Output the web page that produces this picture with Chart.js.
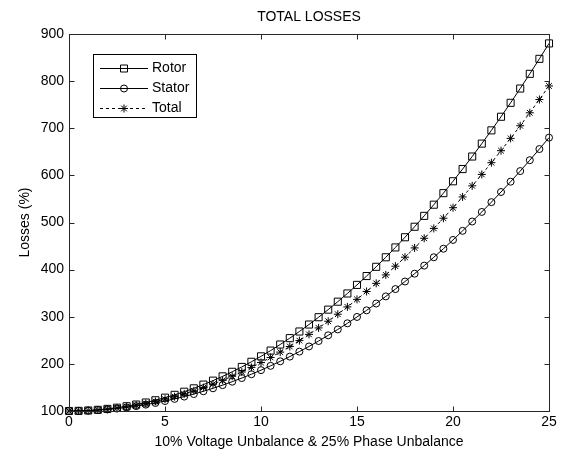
<!DOCTYPE html>
<html>
<head>
<meta charset="utf-8">
<script src="https://cdn.jsdelivr.net/npm/chart.js"></script>
<style>
  html, body { margin: 0; padding: 0; background: #fff; }
  #wrap { width: 562px; height: 454px; }
</style>
</head>
<body>
<div id="wrap"><canvas id="lossChart" width="562" height="454"></canvas></div>
<script>
const UNBALANCE = [0, 0.5, 1, 1.5, 2, 2.5, 3, 3.5, 4, 4.5, 5, 5.5, 6, 6.5, 7, 7.5, 8, 8.5, 9, 9.5,
  10, 10.5, 11, 11.5, 12, 12.5, 13, 13.5, 14, 14.5, 15, 15.5, 16, 16.5, 17, 17.5, 18, 18.5, 19, 19.5,
  20, 20.5, 21, 21.5, 22, 22.5, 23, 23.5, 24, 24.5, 25];
const ROTOR = [100.0, 100.3, 101.1, 102.5, 104.5, 107.0, 110.1, 113.7, 118.0, 122.8, 128.3, 134.3, 140.9,
  148.1, 156.0, 164.4, 173.5, 183.2, 193.5, 204.4, 216.0, 228.2, 241.1, 254.6, 268.7, 283.5, 299.0, 315.1,
  332.0, 349.4, 367.6, 386.4, 406.0, 426.2, 447.1, 468.7, 491.0, 514.1, 537.8, 562.3, 587.5, 613.4, 640.0,
  667.4, 695.5, 724.4, 754.0, 784.3, 815.5, 847.3, 880.0];
const STATOR = [100.0, 100.2, 100.8, 101.9, 103.3, 105.2, 107.5, 110.3, 113.5, 117.1, 121.2, 125.7, 130.6,
  136.0, 141.9, 148.2, 154.9, 162.2, 169.9, 178.0, 186.7, 195.8, 205.4, 215.4, 226.0, 237.0, 248.5, 260.6,
  273.1, 286.1, 299.6, 313.6, 328.1, 343.2, 358.7, 374.8, 391.4, 408.5, 426.2, 444.3, 463.0, 482.3, 502.1,
  522.4, 543.2, 564.7, 586.6, 609.1, 632.2, 655.9, 680.1];
const TOTAL = [100.0, 100.2, 101.0, 102.2, 103.9, 106.2, 108.9, 112.2, 116.0, 120.2, 125.1, 130.4, 136.3,
  142.7, 149.6, 157.1, 165.1, 173.7, 182.8, 192.5, 202.8, 213.6, 225.0, 236.9, 249.4, 262.6, 276.3, 290.5,
  305.4, 320.9, 336.9, 353.6, 370.9, 388.8, 407.3, 426.4, 446.1, 466.5, 487.5, 509.1, 531.4, 554.3, 577.8,
  602.0, 626.9, 652.4, 678.5, 705.3, 732.8, 761.0, 789.8];
const X_RANGE = [0, 25];
const X_STEP = 5;
const Y_RANGE = [100, 900];
const Y_STEP = 100;

const FONT = "'Liberation Sans', Arial, sans-serif";
const INK = '#000';
const AXIS = '#262626';

// markers + legend drawn by hand, matlab style (ticks point inward, boxed axes)
function drawMarker(ctx, style, cx, cy) {
  ctx.beginPath();
  if (style === 'rect') {
    ctx.rect(cx - 3.5, cy - 3.5, 7, 7);
  } else if (style === 'circle') {
    ctx.arc(cx, cy, 3.5, 0, Math.PI * 2);
  } else {
    for (let k = 0; k < 4; k++) {
      const a = k * Math.PI / 4;
      ctx.moveTo(cx - Math.cos(a) * 4, cy - Math.sin(a) * 4);
      ctx.lineTo(cx + Math.cos(a) * 4, cy + Math.sin(a) * 4);
    }
  }
  ctx.stroke();
}

const matlabFrame = {
  id: 'matlabFrame',
  afterDatasetsDraw(chart) {
    const { ctx, chartArea: { left, top, right, bottom }, scales: { x, y } } = chart;
    const L = Math.round(left) + 0.5, R = Math.round(right) + 0.5;
    const T = Math.round(top) + 0.5, B = Math.round(bottom) + 0.5;
    ctx.save();
    ctx.strokeStyle = AXIS;
    ctx.lineWidth = 1;
    ctx.strokeRect(L, T, R - L, B - T);

    ctx.beginPath();
    x.ticks.forEach(t => {
      const px = Math.round(x.getPixelForValue(t.value)) + 0.5;
      ctx.moveTo(px, B); ctx.lineTo(px, B - 5);
      ctx.moveTo(px, T); ctx.lineTo(px, T + 5);
    });
    y.ticks.forEach(t => {
      const py = Math.round(y.getPixelForValue(t.value)) + 0.5;
      ctx.moveTo(L, py); ctx.lineTo(L + 5, py);
      ctx.moveTo(R, py); ctx.lineTo(R - 5, py);
    });
    ctx.stroke();

    // title
    ctx.fillStyle = INK;
    ctx.font = '14px ' + FONT;
    ctx.textAlign = 'center';
    ctx.textBaseline = 'middle';
    ctx.fillText('TOTAL LOSSES', (left + right) / 2, 17);

    // legend
    const bx = 93.5, by = 54.5, bw = 103, bh = 63;
    ctx.fillStyle = '#fff';
    ctx.fillRect(bx, by, bw, bh);
    ctx.strokeStyle = INK;
    ctx.strokeRect(bx, by, bw, bh);
    ctx.textAlign = 'left';
    chart.data.datasets.forEach((ds, i) => {
      const ry = Math.round(68 + i * 20) + 0.5;
      ctx.strokeStyle = INK;
      ctx.lineWidth = 1;
      ctx.setLineDash(ds.borderDash || []);
      ctx.beginPath();
      ctx.moveTo(100, ry); ctx.lineTo(148, ry);
      ctx.stroke();
      ctx.setLineDash([]);
      drawMarker(ctx, ds.pointStyle, 124, ry);
      ctx.fillStyle = INK;
      ctx.fillText(ds.label, 152, ry);
    });
    ctx.restore();
  },
};

function series(label, values, pointStyle, pointRadius, dash) {
  return {
    label,
    data: UNBALANCE.map((v, i) => ({ x: v, y: values[i] })),
    borderColor: INK,
    borderWidth: 1,
    borderDash: dash,
    pointStyle,
    pointRadius,
    pointBorderColor: INK,
    pointBorderWidth: 1,
    pointBackgroundColor: 'rgba(0,0,0,0)',
    tension: 0,
    clip: false,
  };
}

Chart.defaults.font.family = FONT;
Chart.defaults.color = INK;

new Chart(document.getElementById('lossChart').getContext('2d'), {
  type: 'line',
  plugins: [matlabFrame],
  data: {
    datasets: [
      series('Rotor', ROTOR, 'rect', 5, []),
      series('Stator', STATOR, 'circle', 3.5, []),
      series('Total', TOTAL, 'star', 4, [3, 3]),
    ],
  },
  options: {
    responsive: false,
    animation: false,
    events: [],
    layout: { padding: { top: 34, right: 13, left: 0, bottom: 0 } },
    plugins: {
      legend: { display: false },
      title: { display: false },
      tooltip: { enabled: false },
    },
    scales: {
      x: {
        type: 'linear',
        min: X_RANGE[0],
        max: X_RANGE[1],
        ticks: { stepSize: X_STEP, color: INK, font: { size: 14 }, padding: 3, maxRotation: 0 },
        grid: { display: false, drawTicks: false },
        border: { display: false },
        title: {
          display: true,
          text: '10% Voltage Unbalance & 25% Phase Unbalance',
          color: INK,
          font: { size: 14 },
          padding: { top: 0, bottom: 3 },
        },
        afterFit: s => { s.height = 43; },
      },
      y: {
        type: 'linear',
        min: Y_RANGE[0],
        max: Y_RANGE[1],
        ticks: { stepSize: Y_STEP, color: INK, font: { size: 14 }, padding: 5 },
        grid: { display: false, drawTicks: false },
        border: { display: false },
        title: {
          display: true,
          text: 'Losses (%)',
          color: INK,
          font: { size: 14 },
          padding: { top: 17, bottom: 0 },
        },
        afterFit: s => { s.width = 69; },
      },
    },
  },
});
</script>
</body>
</html>
